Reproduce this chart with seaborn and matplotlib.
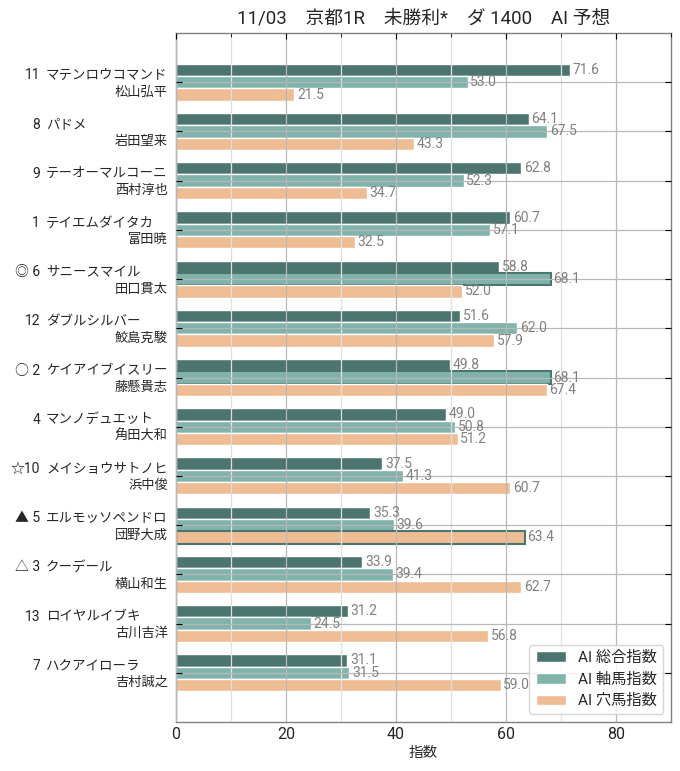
import matplotlib
import matplotlib.pyplot as plt
from matplotlib.transforms import offset_copy
from matplotlib.ticker import MultipleLocator
import pandas as pd
import seaborn as sns

matplotlib.use('agg')

title = '11/03\u3000京都1R\u3000未勝利*\u3000ダ 1400\u3000AI 予想'

marks = ['', '', '', '', '◎', '', '○', '', '☆', '▲', '△', '', '']
numbers = [11, 8, 9, 1, 6, 12, 2, 4, 10, 5, 3, 13, 7]
horses = ['マテンロウコマンド', 'パドメ', 'テーオーマルコーニ', 'テイエムダイタカ',
          'サニースマイル', 'ダブルシルバー', 'ケイアイブイスリー', 'マンノデュエット',
          'メイショウサトノヒ', 'エルモッソペンドロ', 'クーデール', 'ロイヤルイブキ',
          'ハクアイローラ']
jockeys = ['松山弘平', '岩田望来', '西村淳也', '富田暁', '田口貫太', '鮫島克駿',
           '藤懸貴志', '角田大和', '浜中俊', '団野大成', '横山和生', '古川吉洋', '吉村誠之']

total_index = [71.6, 64.1, 62.8, 60.7, 58.8, 51.6, 49.8, 49.0, 37.5, 35.3, 33.9, 31.2, 31.1]
axis_index = [53.0, 67.5, 52.3, 57.1, 68.1, 62.0, 68.1, 50.8, 41.3, 39.6, 39.4, 24.5, 31.5]
dark_index = [21.5, 43.3, 34.7, 32.5, 52.0, 57.9, 67.4, 51.2, 60.7, 63.4, 62.7, 56.8, 59.0]

series_names = ['AI 総合指数', 'AI 軸馬指数', 'AI 穴馬指数']
series_colors = ['#4c7570', '#7fb3ab', '#eebd93']

# which series gets an outline for each mark
mark_highlight = {'◎': 'AI 軸馬指数', '○': 'AI 軸馬指数', '▲': 'AI 穴馬指数'}

keys = ['{}_{}'.format(n, h) for n, h in zip(numbers, horses)]
df = pd.DataFrame({'key': keys,
                   series_names[0]: total_index,
                   series_names[1]: axis_index,
                   series_names[2]: dark_index})
df_long = df.melt(id_vars='key', var_name='series', value_name='value')

sns.set_style('white')
plt.rcParams['font.family'] = ['Roboto', 'Noto Sans CJK JP', 'DejaVu Sans']

fig = plt.figure(figsize=(6.8, 7.71), dpi=100)
ax = fig.add_axes([176 / 680, 1 - 722 / 771, 495 / 680, 689 / 771])

sns.barplot(data=df_long, y='key', x='value', hue='series', order=keys,
            hue_order=series_names, palette=series_colors, orient='h',
            width=0.75, saturation=1, ax=ax, errorbar=None)

# value labels and outlines for marked horses
for name, container in zip(series_names, ax.containers):
    ax.bar_label(container, fmt='%.1f', padding=2, color='gray', fontsize=10)
    for i, patch in enumerate(container.patches):
        if mark_highlight.get(marks[i]) == name:
            patch.set_edgecolor('#4c7570')
            patch.set_linewidth(1.5)

ax.set_xlim(0, 90)
ax.set_ylim(len(keys), -1)
ax.xaxis.set_major_locator(MultipleLocator(20))
ax.xaxis.set_minor_locator(MultipleLocator(10))
ax.set_yticks(range(len(keys)))
ax.set_yticklabels([])
ax.set_ylabel('')
ax.set_xlabel('指数', fontsize=10.5, labelpad=3)
ax.tick_params(axis='x', which='major', labelsize=11.5, direction='in', top=True,
               length=4, color='black')
ax.tick_params(axis='x', which='minor', direction='in', top=True, length=3, color='black')
ax.tick_params(axis='y', direction='in', left=True, right=True, length=4, color='black')

ax.set_axisbelow(False)
ax.grid(axis='x', which='major', color='#b8b8b8', linewidth=0.9)
ax.grid(axis='x', which='minor', color='#e0e0e0', linewidth=0.9)
ax.grid(axis='y', which='major', color='#b8b8b8', linewidth=0.9)
for spine in ax.spines.values():
    spine.set_color('gray')
    spine.set_linewidth(1.0)

# two-line labels left of the axis
ytrans = ax.get_yaxis_transform()
num_trans = offset_copy(ytrans, fig=fig, x=-136, units='dots')
name_trans = offset_copy(ytrans, fig=fig, x=-130, units='dots')
jockey_trans = offset_copy(ytrans, fig=fig, x=-8, units='dots')
for i in range(len(keys)):
    head = '{}{:>2}'.format(marks[i], numbers[i]) if marks[i] else str(numbers[i])
    ax.text(0, i - 0.14, head, transform=num_trans, ha='right', va='center', fontsize=10)
    ax.text(0, i - 0.14, horses[i], transform=name_trans, ha='left', va='center', fontsize=9.7)
    ax.text(0, i + 0.2, jockeys[i], transform=jockey_trans, ha='right', va='center', fontsize=9.5)

ax.legend(loc='lower right', fontsize=11, title=None, frameon=True, fancybox=True,
          framealpha=0.8, edgecolor='#cccccc')
ax.set_title(title, fontsize=13.5, pad=7)

plt.savefig('out.png', dpi=100)
